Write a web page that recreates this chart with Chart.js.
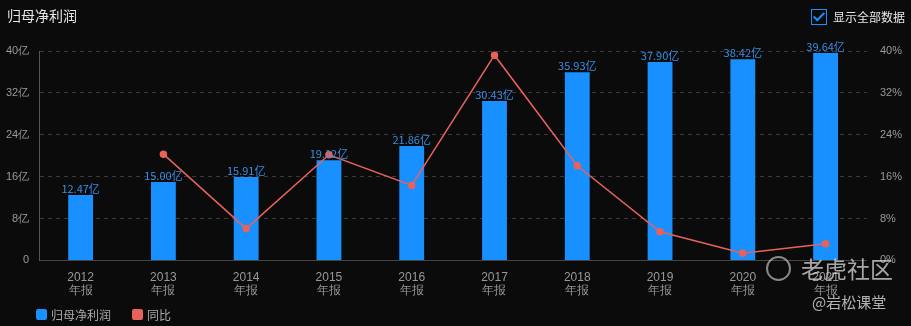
<!DOCTYPE html>
<html>
<head>
<meta charset="utf-8">
<script src="https://cdn.jsdelivr.net/npm/chart.js@4/dist/chart.umd.min.js"></script>
<style>
  html, body { margin: 0; padding: 0; background: #0b0b0c; }
  #wrap { position: relative; width: 911px; height: 326px; overflow: hidden; font-family: "Noto Sans CJK SC", "Noto Sans", sans-serif; }
  #myChart { position: absolute; left: 0; top: 0; }
  #title { position: absolute; left: 7px; top: 5px; color: #e6e6e6; font-size: 14px; }
  #toggle { position: absolute; left: 811px; top: 8px; color: #e6e6e6; font-size: 12px; display: flex; align-items: center; white-space: nowrap; }
  #toggle .box { width: 14px; height: 14px; border: 1px solid #1890ff; margin-right: 6px; position: relative; }
  #toggle .box::after { content: ""; position: absolute; left: 4px; top: 0px; width: 4px; height: 9px; border: solid #1890ff; border-width: 0 2px 2px 0; transform: rotate(45deg); }
  #legend { position: absolute; left: 36px; top: 306px; display: flex; font-size: 12px; color: #aaa; white-space: nowrap; }
  #legend span { display: flex; align-items: center; margin-right: 21px; }
  #legend i { width: 11px; height: 11px; border-radius: 2px; margin-right: 4px; display: inline-block; }
  #mark1 { position: absolute; left: 766px; top: 251px; color: rgba(220,220,220,0.75); font-size: 23px; display: flex; align-items: center; white-space: nowrap; }
  #mark1 .logo { width: 21px; height: 21px; border: 2px solid rgba(220,220,220,0.6); border-radius: 50%; margin-right: 10px; }
  #mark2 { position: absolute; left: 812px; top: 291px; color: rgba(220,220,220,0.8); font-size: 15px; white-space: nowrap; }
</style>
</head>
<body>
<div id="wrap">
  <canvas id="myChart" width="911" height="326"></canvas>
  <div id="title">归母净利润</div>
  <div id="toggle"><span class="box"></span>显示全部数据</div>
  <div id="legend"></div>
  <div id="mark1"><span class="logo"></span>老虎社区</div>
  <div id="mark2">@岩松课堂</div>
</div>
<script>
  // Datos
  const years = ['2012', '2013', '2014', '2015', '2016', '2017', '2018', '2019', '2020', '2021'];
  const profit = [12.47, 15.00, 15.91, 19.12, 21.86, 30.43, 35.93, 37.90, 38.42, 39.64];
  const yoy = [null, 20.29, 6.07, 20.18, 14.33, 39.20, 18.07, 5.48, 1.37, 3.18];
  const leftTicks = [0, 8, 16, 24, 32, 40];

  const barColor = '#1890ff';
  const lineColor = '#e8625c';

  // Etiquetas encima de las barras
  const barLabels = {
    id: 'barLabels',
    afterDatasetsDraw(chart) {
      const ctx = chart.ctx;
      const meta = chart.getDatasetMeta(1);
      ctx.save();
      ctx.fillStyle = '#3a8ee6';
      ctx.font = '11px "Noto Sans CJK SC", sans-serif';
      ctx.textAlign = 'center';
      ctx.textBaseline = 'bottom';
      meta.data.forEach((bar, i) => {
        ctx.fillText(profit[i].toFixed(2) + '亿', bar.x, bar.y - 1);
      });
      ctx.restore();
    }
  };

  const ctx = document.getElementById('myChart').getContext('2d');
  const myChart = new Chart(ctx, {
    data: {
      labels: years.map(y => [y, '年报']),
      datasets: [
        {
          type: 'line',
          label: '同比',
          data: yoy,
          yAxisID: 'y1',
          borderColor: lineColor,
          backgroundColor: lineColor,
          borderWidth: 1.5,
          pointRadius: 3,
          pointHoverRadius: 3,
          tension: 0,
          order: 0,
        },
        {
          type: 'bar',
          label: '归母净利润',
          data: profit,
          yAxisID: 'y',
          backgroundColor: barColor,
          categoryPercentage: 1,
          barPercentage: 0.3,
          order: 1,
        },
      ],
    },
    options: {
      responsive: false,
      animation: false,
      layout: { padding: { top: 51, left: -4, right: -4, bottom: 26 } },
      plugins: {
        tooltip: { enabled: false },
        legend: { display: false },
      },
      scales: {
        x: {
          grid: { display: false },
          border: { color: '#444' },
          ticks: { color: '#999', font: { size: 12, lineHeight: 1.15 }, padding: 2, maxRotation: 0 },
        },
        y: {
          position: 'left',
          min: 0,
          max: 40,
          afterBuildTicks: axis => { axis.ticks = leftTicks.map(v => ({ value: v })); },
          grid: { color: '#3a3a3a', drawTicks: false },
          border: { color: '#555', dash: [4, 4] },
          ticks: {
            color: '#999',
            font: { size: 11 },
            padding: 10,
            callback: v => (v === 0 ? '0' : v + '亿'),
          },
        },
        y1: {
          position: 'right',
          min: 0,
          max: 40,
          afterBuildTicks: axis => { axis.ticks = leftTicks.map(v => ({ value: v })); },
          grid: { display: false, drawTicks: false },
          border: { display: false },
          ticks: {
            color: '#999',
            font: { size: 11 },
            padding: 13,
            callback: v => v + '%',
          },
        },
      },
    },
    plugins: [barLabels],
  });

  // Leyenda HTML
  document.getElementById('legend').innerHTML = [
    ['归母净利润', barColor],
    ['同比', lineColor],
  ].map(([t, c]) => `<span><i style="background:${c}"></i>${t}</span>`).join('');
</script>
</body>
</html>
